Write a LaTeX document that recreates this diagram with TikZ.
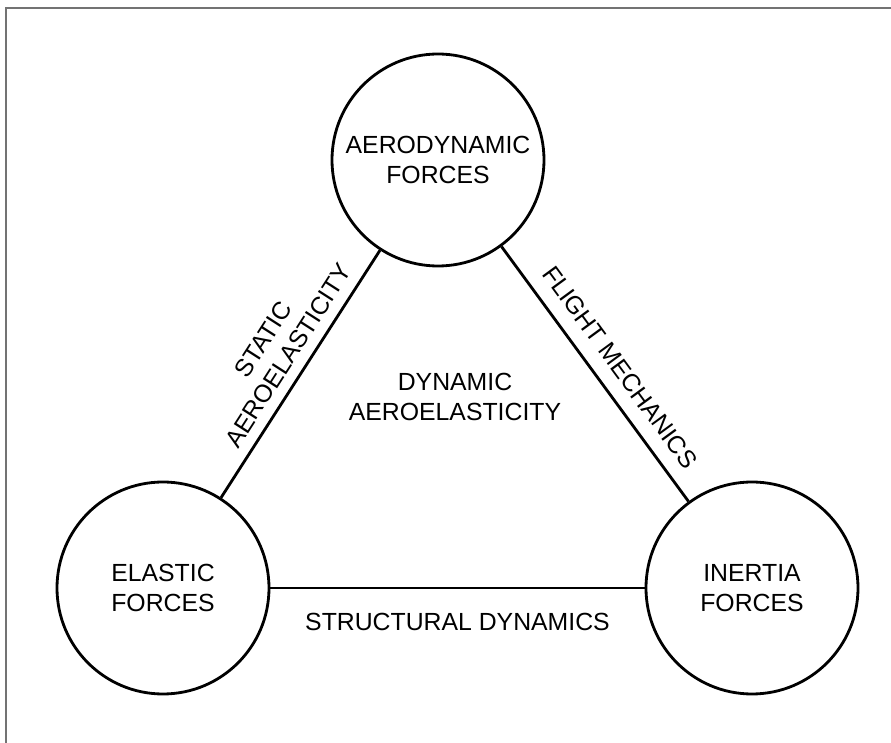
\documentclass[tikz,border=0pt]{standalone}
\usepackage{fontspec}
\setmainfont{Liberation Sans}
\usepackage{tikz}
\usetikzlibrary{positioning}

\tikzset{
    force/.style={draw, circle, line width=1.4pt, minimum size=106pt, inner sep=0pt, align=center},
    link/.style={line width=1.4pt},
    lbl/.style={inner sep=0pt, align=center}
}

\begin{document}
\begin{tikzpicture}[x=0.5pt, y=-0.5pt, font=\fontsize{12.4}{15}\selectfont]
        \useasboundingbox (0,0) rectangle (891,743);
        % frame
        \draw[gray!90!black, line width=0.6pt] (6,743) -- (6,8) -- (891,8);

        \node[force] (aero) at (438,160) {AERODYNAMIC\\FORCES};
        \node[force] (elastic) at (163,588) {ELASTIC\\FORCES};
        \node[force] (inertia) at (752,588) {INERTIA\\FORCES};

        \draw[link] (elastic) -- node[lbl, sloped, above=5pt, pos=0.53] {STATIC\\AEROELASTICITY} (aero);
        \draw[link] (aero) -- node[lbl, sloped, above=7pt, pos=0.53] {FLIGHT MECHANICS} (inertia);
        \draw[link] (elastic) -- node[lbl, below=12pt] {STRUCTURAL DYNAMICS} (inertia);

        \node[lbl] (dyn) at (455,397) {DYNAMIC\\AEROELASTICITY};
    \end{tikzpicture}
\end{document}
